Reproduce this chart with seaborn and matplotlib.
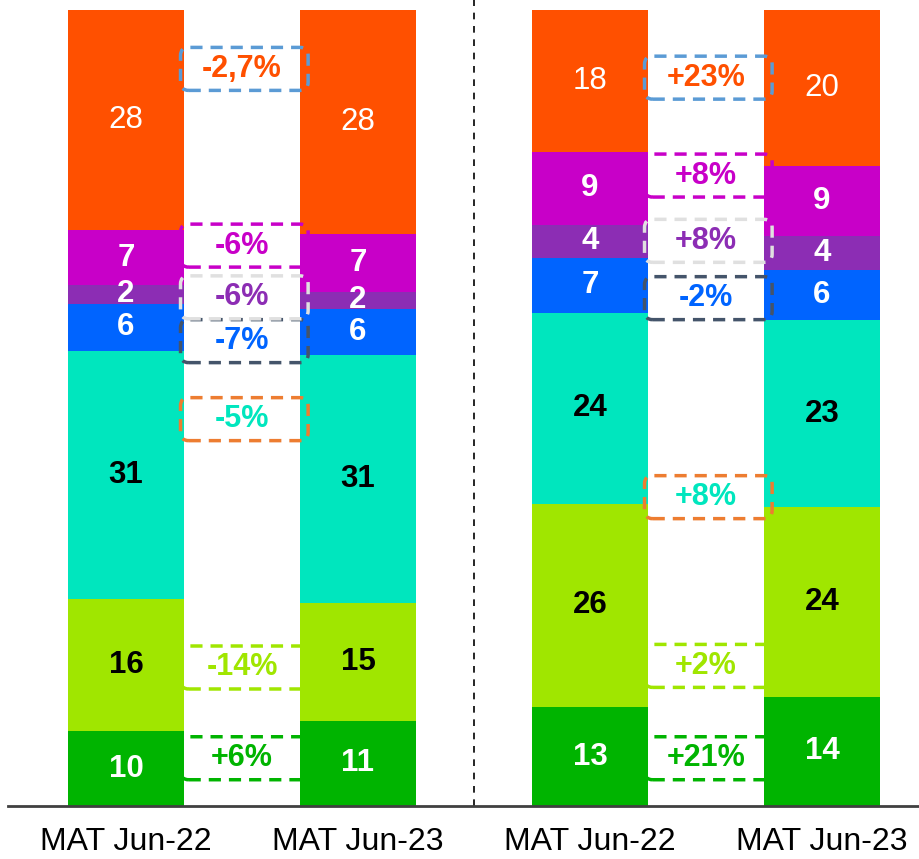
import numpy as np
import pandas as pd
import matplotlib
matplotlib.use('Agg')
import matplotlib.pyplot as plt
from matplotlib.patches import FancyBboxPatch
import seaborn as sns

sns.set_style('white')
plt.rcParams['font.family'] = ['Liberation Sans', 'DejaVu Sans']

# bars: left pair, right pair
bars = ['L22', 'L23', 'R22', 'R23']
tick_labels = ['MAT Jun-22', 'MAT Jun-23', 'MAT Jun-22', 'MAT Jun-23']

# segments, bottom to top
segments = ['green', 'lime', 'teal', 'blue', 'violet', 'magenta', 'orange']
shares = {
    'L22': [9.4, 16.6, 31.2, 5.9, 2.4, 6.8, 27.7],
    'L23': [10.7, 14.8, 31.2, 5.8, 2.1, 7.2, 28.2],
    'R22': [12.4, 25.6, 23.9, 7.0, 4.1, 9.2, 17.8],
    'R23': [13.7, 23.9, 23.4, 6.3, 4.3, 8.8, 19.6],
}
seg_labels = {
    'L22': ['10', '16', '31', '6', '2', '7', '28'],
    'L23': ['11', '15', '31', '6', '2', '7', '28'],
    'R22': ['13', '26', '24', '7', '4', '9', '18'],
    'R23': ['14', '24', '23', '6', '4', '9', '20'],
}
changes_left = ['+6%', '-14%', '-5%', '-7%', '-6%', '-6%', '-2,7%']
changes_right = ['+21%', '+2%', '+8%', '-2%', '+8%', '+8%', '+23%']

colors = {
    'green': '#00B400', 'lime': '#A0E600', 'teal': '#00E6BE', 'blue': '#0064FF',
    'violet': '#8C2DB4', 'magenta': '#C800C8', 'orange': '#FF5000',
}
text_colors = {
    'green': 'white', 'lime': 'black', 'teal': 'black', 'blue': 'white',
    'violet': 'white', 'magenta': 'white', 'orange': 'white',
}
box_edges = {
    'green': '#00B400', 'lime': '#A0E600', 'teal': '#ED7D31', 'blue': '#44546A',
    'violet': '#E0E0E0', 'magenta': '#C800C8', 'orange': '#5B9BD5',
}
# vertical centre of change boxes (in % of bar height)
box_y_left = [6.0, 17.4, 48.6, 58.4, 63.9, 70.4, 92.6]
box_y_right = [6.0, 17.6, 38.8, 63.8, 71.0, 79.2, 91.5]

rows = []
for b in bars:
    cum = np.cumsum(shares[b])
    for s, v, c in zip(segments, shares[b], cum):
        rows.append({'bar': b, 'segment': s, 'value': v, 'top': c})
df = pd.DataFrame(rows)

fig = plt.figure(figsize=(9.2, 8.59), dpi=100)
ax = fig.add_axes([8 / 920, 53 / 859, 912 / 920, 806 / 859])

# stacked bars: draw cumulative tops from top segment down
for s in segments[::-1]:
    d = df[df['segment'] == s]
    sns.barplot(data=d, x='bar', y='top', order=bars, color=colors[s],
                width=0.5, saturation=1, ax=ax, zorder=2,
                edgecolor='none', linewidth=0)

# segment labels
for i, b in enumerate(bars):
    d = df[df['bar'] == b]
    for (_, r), lab in zip(d.iterrows(), seg_labels[b]):
        s = r['segment']
        ax.text(i, r['top'] - r['value'] / 2, lab, ha='center', va='center',
                fontsize=22.5, color=text_colors[s],
                fontweight='normal' if s == 'orange' else 'bold', zorder=4)

# change boxes
for xc, labs, ys in [(0.51, changes_left, box_y_left), (2.51, changes_right, box_y_right)]:
    for s, lab, yc in zip(segments, labs, ys):
        w, h = 0.55, 5.4
        box = FancyBboxPatch((xc - w / 2, yc - h / 2), w, h,
                             boxstyle='round,pad=0,rounding_size=0.035',
                             mutation_aspect=29, facecolor='none',
                             edgecolor=box_edges[s], linewidth=2.5,
                             linestyle=(0, (3.5, 2.3)), zorder=3)
        ax.add_patch(box)
        ax.text(xc - 0.01, yc, lab, ha='center', va='center', fontsize=22,
                fontweight='bold', color=colors[s], zorder=4)

# separator
ax.plot([1.5, 1.5], [0, 101.3], color='black', lw=1.2, ls=(0, (4, 4)), zorder=1)

ax.set_xlim(-118 / 232, 794 / 232)
ax.set_ylim(0, 806 / 796 * 100)
ax.set_xticks(range(4))
ax.set_xticklabels(tick_labels, fontsize=23, color='black')
ax.tick_params(axis='x', length=0, pad=15)
ax.set_yticks([])
ax.set_xlabel('')
ax.set_ylabel('')
for sp in ['top', 'right', 'left']:
    ax.spines[sp].set_visible(False)
ax.spines['bottom'].set_color('#404040')
ax.spines['bottom'].set_linewidth(2)

fig.savefig('out.png', dpi=100)
